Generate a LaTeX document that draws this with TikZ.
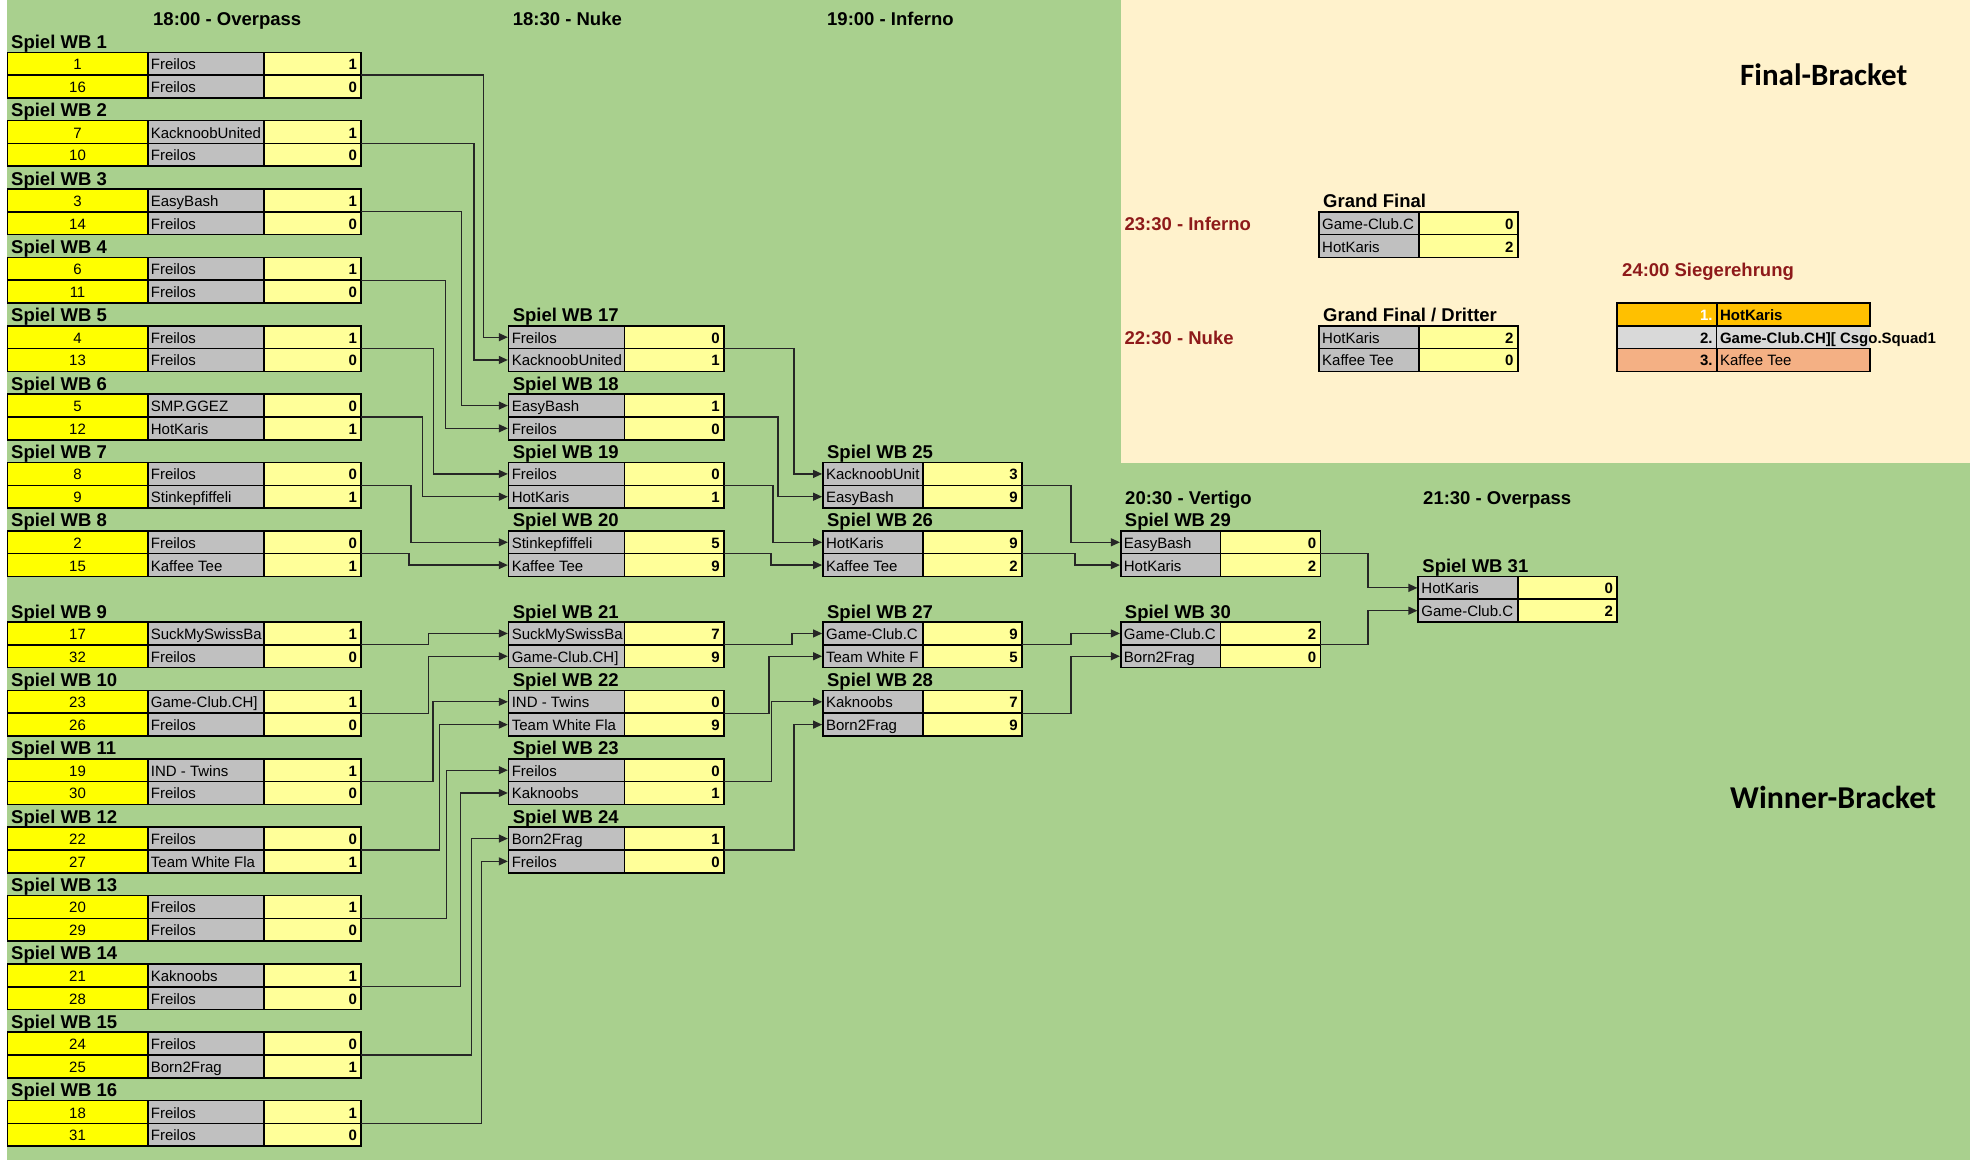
\documentclass[tikz,border=0pt]{standalone}
\usepackage{fontspec}
\setmainfont{Liberation Sans}
\newfontfamily\carlfont{Carlito}
\usetikzlibrary{arrows.meta,calc}
\definecolor{bggreen}{HTML}{A9D08E}
\definecolor{bgcream}{HTML}{FFF2CC}
\definecolor{seedY}{HTML}{FFFF00}
\definecolor{nameG}{HTML}{C0C0C0}
\definecolor{scoreY}{HTML}{FFFF99}
\definecolor{goldC}{HTML}{FFC000}
\definecolor{lgrayC}{HTML}{D9D9D9}
\definecolor{salmonC}{HTML}{F4B084}
\definecolor{dredC}{HTML}{8E1A1A}
\newcommand\RowTop[1]{(6.72+(#1)*22.79)}
\newcommand\RowFont{\fontsize{15}{18}\selectfont}
\newcommand\TitleFont{\fontsize{18.5}{22}\selectfont\bfseries}
\tikzset{
  cellbox/.style={draw=black, line width=1.6pt, inner sep=0pt, outer sep=0pt, anchor=north west, minimum height=22.79pt},
  rtxt/.style={inner sep=0pt, font=\RowFont},
  ttl/.style={inner sep=0pt, anchor=base west, font=\TitleFont},
  redttl/.style={ttl, text=dredC},
  conn/.style={draw=black!85, line width=1.2pt, shorten >=0.8pt, -{Triangle[length=9pt,width=8pt]}},
}
\newcommand\NameCell[5]{%
  \node[cellbox, fill=nameG, minimum width=#4pt] (#1) at ({#2},{\RowTop{#3}}) {};
  \node[rtxt, anchor=base west] (#1t) at ([xshift=3pt,yshift=-6pt]#1.west) {#5};}
\newcommand\ScoreCell[5]{%
  \node[cellbox, fill=scoreY, minimum width=#4pt] (#1) at ({#2},{\RowTop{#3}}) {};
  \node[rtxt, font=\RowFont\bfseries, anchor=base east] (#1t) at ([xshift=-4pt,yshift=-6pt]#1.east) {#5};}
\newcommand\SeedCell[3]{%
  \node[cellbox, fill=seedY, minimum width=140.3pt] (#1) at (7.4,{\RowTop{#2}}) {};
  \node[rtxt, anchor=base] (#1t) at ([yshift=-6pt]#1.center) {#3};}
\newcommand\CellTitle[4]{\node[ttl] (#1) at ({#2},{\RowTop{#3}+18.8}) {#4};}
\newcommand\FirstMatch[8]{%
  \CellTitle{t#1}{11}{#2}{Spiel WB #1}
  \SeedCell{m#1sa}{#2+1}{#3}
  \NameCell{m#1na}{147.7}{#2+1}{116.2}{#4}
  \ScoreCell{m#1ca}{263.9}{#2+1}{97.3}{#5}
  \SeedCell{m#1sb}{#2+2}{#6}
  \NameCell{m#1nb}{147.7}{#2+2}{116.2}{#7}
  \ScoreCell{m#1cb}{263.9}{#2+2}{97.3}{#8}}
\newcommand\TeamPair[9]{%
  \NameCell{#1na}{#3}{#2}{#4}{#6}
  \ScoreCell{#1ca}{#3+#4}{#2}{#5}{#7}
  \NameCell{#1nb}{#3}{#2+1}{#4}{#8}
  \ScoreCell{#1cb}{#3+#4}{#2+1}{#5}{#9}}
\newcommand\WinLink[3]{%
  \coordinate (v#1) at (#3,0);
  \draw[conn] (#1ca.south east) -- (#1ca.south east -| v#1) |- (#2.west);}
\begin{document}
\begin{tikzpicture}[x=1pt,y=-1pt]
\useasboundingbox (0,0) rectangle (1980,1160);
\fill[white] (0,0) rectangle (1980,1160);
\fill[bggreen] (6.7,0) rectangle (1970,1160);
\fill[bgcream] (1120.7,0) rectangle (1970,462.5);

% headers
\CellTitle{h1}{153}{0}{18:00 - Overpass}
\CellTitle{h2}{512.7}{0}{18:30 - Nuke}
\CellTitle{h3}{827}{0}{19:00 - Inferno}
\CellTitle{h4}{1125}{21}{20:30 - Vertigo}
\CellTitle{h5}{1423}{21}{21:30 - Overpass}

% round 1
\FirstMatch{1}{1}{1}{Freilos}{1}{16}{Freilos}{0}
\FirstMatch{2}{4}{7}{KacknoobUnited}{1}{10}{Freilos}{0}
\FirstMatch{3}{7}{3}{EasyBash}{1}{14}{Freilos}{0}
\FirstMatch{4}{10}{6}{Freilos}{1}{11}{Freilos}{0}
\FirstMatch{5}{13}{4}{Freilos}{1}{13}{Freilos}{0}
\FirstMatch{6}{16}{5}{SMP.GGEZ}{0}{12}{HotKaris}{1}
\FirstMatch{7}{19}{8}{Freilos}{0}{9}{Stinkepfiffeli}{1}
\FirstMatch{8}{22}{2}{Freilos}{0}{15}{Kaffee Tee}{1}
\FirstMatch{9}{26}{17}{SuckMySwissBa}{1}{32}{Freilos}{0}
\FirstMatch{10}{29}{23}{Game-Club.CH]}{1}{26}{Freilos}{0}
\FirstMatch{11}{32}{19}{IND - Twins}{1}{30}{Freilos}{0}
\FirstMatch{12}{35}{22}{Freilos}{0}{27}{Team White Fla}{1}
\FirstMatch{13}{38}{20}{Freilos}{1}{29}{Freilos}{0}
\FirstMatch{14}{41}{21}{Kaknoobs}{1}{28}{Freilos}{0}
\FirstMatch{15}{44}{24}{Freilos}{0}{25}{Born2Frag}{1}
\FirstMatch{16}{47}{18}{Freilos}{1}{31}{Freilos}{0}

% round 2
\CellTitle{t17}{512.6}{13}{Spiel WB 17}
\TeamPair{m17}{14}{508.6}{115.7}{99.5}{Freilos}{0}{KacknoobUnited}{1}
\CellTitle{t18}{512.6}{16}{Spiel WB 18}
\TeamPair{m18}{17}{508.6}{115.7}{99.5}{EasyBash}{1}{Freilos}{0}
\CellTitle{t19}{512.6}{19}{Spiel WB 19}
\TeamPair{m19}{20}{508.6}{115.7}{99.5}{Freilos}{0}{HotKaris}{1}
\CellTitle{t20}{512.6}{22}{Spiel WB 20}
\TeamPair{m20}{23}{508.6}{115.7}{99.5}{Stinkepfiffeli}{5}{Kaffee Tee}{9}
\CellTitle{t21}{512.6}{26}{Spiel WB 21}
\TeamPair{m21}{27}{508.6}{115.7}{99.5}{SuckMySwissBa}{7}{Game-Club.CH]}{9}
\CellTitle{t22}{512.6}{29}{Spiel WB 22}
\TeamPair{m22}{30}{508.6}{115.7}{99.5}{IND - Twins}{0}{Team White Fla}{9}
\CellTitle{t23}{512.6}{32}{Spiel WB 23}
\TeamPair{m23}{33}{508.6}{115.7}{99.5}{Freilos}{0}{Kaknoobs}{1}
\CellTitle{t24}{512.6}{35}{Spiel WB 24}
\TeamPair{m24}{36}{508.6}{115.7}{99.5}{Born2Frag}{1}{Freilos}{0}

% round 3
\CellTitle{t25}{826.9}{19}{Spiel WB 25}
\TeamPair{m25}{20}{822.9}{100}{99.1}{KacknoobUnit}{3}{EasyBash}{9}
\CellTitle{t26}{826.9}{22}{Spiel WB 26}
\TeamPair{m26}{23}{822.9}{100}{99.1}{HotKaris}{9}{Kaffee Tee}{2}
\CellTitle{t27}{826.9}{26}{Spiel WB 27}
\TeamPair{m27}{27}{822.9}{100}{99.1}{Game-Club.C}{9}{Team White F}{5}
\CellTitle{t28}{826.9}{29}{Spiel WB 28}
\TeamPair{m28}{30}{822.9}{100}{99.1}{Kaknoobs}{7}{Born2Frag}{9}

% round 4 and 5
\CellTitle{t29}{1124.7}{22}{Spiel WB 29}
\TeamPair{m29}{23}{1120.7}{99.7}{100}{EasyBash}{0}{HotKaris}{2}
\CellTitle{t30}{1124.7}{26}{Spiel WB 30}
\TeamPair{m30}{27}{1120.7}{99.7}{100}{Game-Club.C}{2}{Born2Frag}{0}
\CellTitle{t31}{1422.2}{24}{Spiel WB 31}
\TeamPair{m31}{25}{1418.2}{99.7}{99.2}{HotKaris}{0}{Game-Club.C}{2}

% finals
\CellTitle{gft}{1323}{8}{Grand Final}
\TeamPair{gf}{9}{1319}{100}{98.7}{Game-Club.C}{0}{HotKaris}{2}
\CellTitle{gdt}{1323}{13}{Grand Final / Dritter}
\TeamPair{gd}{14}{1319}{100}{98.7}{HotKaris}{2}{Kaffee Tee}{0}
\node[redttl] (r1) at (1124.4,{\RowTop{9}+18.8}) {23:30 - Inferno};
\node[redttl] (r2) at (1124.4,{\RowTop{14}+18.8}) {22:30 - Nuke};
\node[redttl] (r3) at (1622,{\RowTop{11}+18.8}) {24:00 Siegerehrung};

% podium
\node[cellbox, fill=lgrayC, minimum width=99.8pt] (p2r) at (1617,{\RowTop{14}}) {};
\node[cellbox, draw=none, fill=lgrayC, minimum width=153.2pt] (p2n) at (1716.8,{\RowTop{14}}) {};
\node[rtxt, font=\RowFont\bfseries, anchor=base east] (p2rt) at ([xshift=-4pt,yshift=-6pt]p2r.east) {2.};
\node[rtxt, font=\RowFont\bfseries, anchor=base west] (p2nt) at ([xshift=3pt,yshift=-6pt]p2n.west) {Game-Club.CH][ Csgo.Squad1};
\node[cellbox, fill=goldC, minimum width=99.8pt] (p1r) at (1617,{\RowTop{13}}) {};
\node[cellbox, fill=goldC, minimum width=153.2pt] (p1n) at (1716.8,{\RowTop{13}}) {};
\node[rtxt, font=\RowFont\bfseries, text=white, anchor=base east] (p1rt) at ([xshift=-4pt,yshift=-6pt]p1r.east) {1.};
\node[rtxt, font=\RowFont\bfseries, anchor=base west] (p1nt) at ([xshift=3pt,yshift=-6pt]p1n.west) {HotKaris};
\node[cellbox, fill=salmonC, minimum width=99.8pt] (p3r) at (1617,{\RowTop{15}}) {};
\node[cellbox, fill=salmonC, minimum width=153.2pt] (p3n) at (1716.8,{\RowTop{15}}) {};
\node[rtxt, font=\RowFont\bfseries, anchor=base east] (p3rt) at ([xshift=-4pt,yshift=-6pt]p3r.east) {3.};
\node[rtxt, anchor=base west] (p3nt) at ([xshift=3pt,yshift=-6pt]p3n.west) {Kaffee Tee};

% big titles
\node[inner sep=0pt, anchor=base west, font=\carlfont\fontsize{31}{36}\selectfont\bfseries] (fb) at (1740,85) {Final-Bracket};
\node[inner sep=0pt, anchor=base west, font=\carlfont\fontsize{31.8}{36}\selectfont\bfseries] (wb) at (1730,808) {Winner-Bracket};

% connectors
\WinLink{m1}{m17na}{483.3}
\WinLink{m2}{m17nb}{474}
\WinLink{m3}{m18na}{461.7}
\WinLink{m4}{m18nb}{445.7}
\WinLink{m5}{m19na}{433.3}
\WinLink{m6}{m19nb}{422.3}
\WinLink{m7}{m20na}{411}
\WinLink{m8}{m20nb}{409}
\WinLink{m9}{m21na}{428.5}
\WinLink{m10}{m21nb}{428.5}
\WinLink{m11}{m22na}{433}
\WinLink{m12}{m22nb}{439.7}
\WinLink{m13}{m23na}{446.4}
\WinLink{m14}{m23nb}{460.5}
\WinLink{m15}{m24na}{471.2}
\WinLink{m16}{m24nb}{481.3}
\WinLink{m17}{m25na}{794}
\WinLink{m18}{m25nb}{778}
\WinLink{m19}{m26na}{773}
\WinLink{m20}{m26nb}{771}
\WinLink{m21}{m27na}{792}
\WinLink{m22}{m27nb}{769}
\WinLink{m23}{m28na}{771.6}
\WinLink{m24}{m28nb}{794}
\WinLink{m25}{m29na}{1071}
\WinLink{m26}{m29nb}{1075}
\WinLink{m27}{m30na}{1071}
\WinLink{m28}{m30nb}{1071}
\WinLink{m29}{m31na}{1368}
\WinLink{m30}{m31nb}{1368}
\end{tikzpicture}
\end{document}
